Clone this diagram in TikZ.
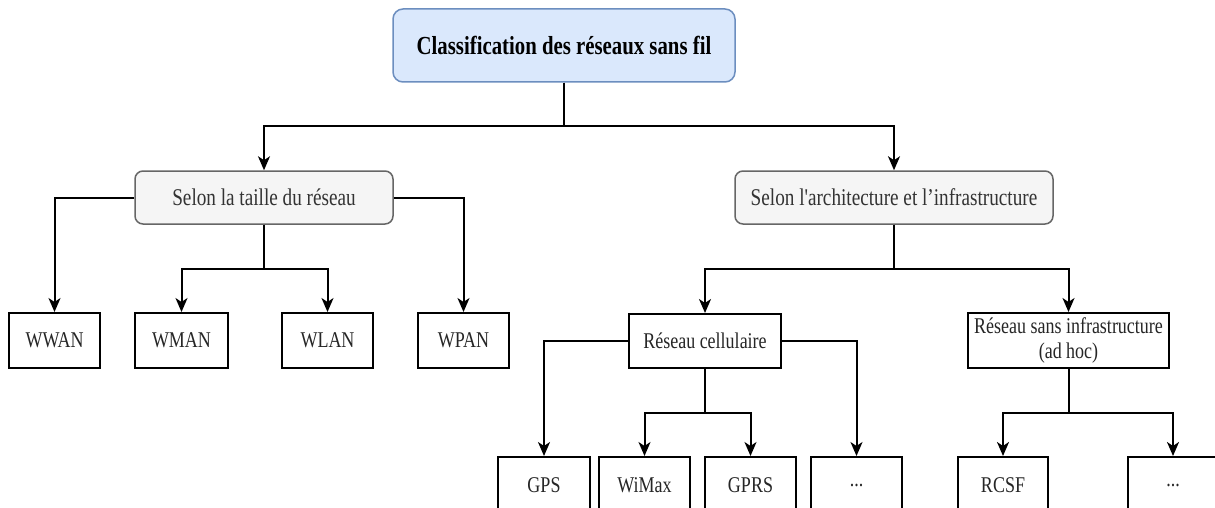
\documentclass[tikz,border=0pt]{standalone}
\usepackage{fontspec}
\setmainfont{Liberation Serif}[FakeStretch=0.8, Ligatures=TeXOff]
\usetikzlibrary{arrows.meta}

\definecolor{rootfill}{HTML}{DAE8FC}
\definecolor{rootdraw}{HTML}{6C8EBF}
\definecolor{groupfill}{HTML}{F5F5F5}
\definecolor{groupdraw}{HTML}{666666}
\definecolor{grouptext}{HTML}{333333}

\tikzset{
  rootbox/.style={draw=rootdraw, fill=rootfill, line width=1.5pt, rounded corners=10pt,
    minimum width=342pt, minimum height=73pt, inner sep=0pt,
    font=\bfseries\fontsize{26}{30}\selectfont},
  groupbox/.style={draw=groupdraw, fill=groupfill, line width=1.5pt, rounded corners=8pt,
    minimum height=53pt, inner sep=0pt, text=grouptext,
    font=\fontsize{24}{28}\selectfont},
  leafbox/.style={draw=black, fill=white, line width=2pt,
    minimum width=91pt, minimum height=55pt, inner sep=0pt, text=black!85,
    font=\fontsize{22.5}{24}\selectfont, align=center},
  arr/.style={draw=black, line width=2pt,
    -{Stealth[length=14pt, width=12pt, inset=4pt]}},
}

\begin{document}
\begin{tikzpicture}[x=1pt, y=-1pt]
  \useasboundingbox (0,0) rectangle (1215,508);

  % root
  \node[rootbox] (root) at (564,45.5) {Classification des réseaux sans fil};

  % two classification criteria
  \node[groupbox, minimum width=258pt] (size) at (264,197.5) {Selon la taille du réseau};
  \node[groupbox, minimum width=318pt] (arch) at (894,197.5) {Selon l'architecture et l’infrastructure};

  % by network size
  \node[leafbox] (wwan) at (54.5,340.5) {WWAN};
  \node[leafbox, minimum width=93pt] (wman) at (181.5,340.5) {WMAN};
  \node[leafbox] (wlan) at (327.5,340.5) {WLAN};
  \node[leafbox] (wpan) at (463.5,340.5) {WPAN};

  % by architecture
  \node[leafbox, minimum width=152pt, minimum height=54pt] (cell) at (705,341) {Réseau cellulaire};
  \node[leafbox, minimum width=201pt, font=\fontsize{22.5}{25}\selectfont] (adhoc) at (1068.5,340.5)
    {Réseau sans infrastructure\\(ad hoc)};

  % cellular networks
  \node[leafbox, minimum width=92pt, minimum height=56pt] (gps) at (544,485) {GPS};
  \node[leafbox, minimum height=56pt] (wimax) at (644.5,485) {WiMax};
  \node[leafbox, minimum height=56pt] (gprs) at (750.5,485) {GPRS};
  \node[leafbox, minimum height=56pt] (cellmore) at (856.5,485) {...};

  % ad hoc networks
  \node[leafbox, minimum width=90pt, minimum height=56pt] (rcsf) at (1003,485) {RCSF};
  \node[leafbox, minimum width=90pt, minimum height=56pt] (adhocmore) at (1173,485) {...};

  % connectors
  \draw[arr] (root.south) -- ++(0,43) -| (size.north);
  \draw[arr] (root.south) -- ++(0,43) -| (arch.north);

  \draw[arr] (size.west) -| (wwan.north);
  \draw[arr] (size.east) -| (wpan.north);
  \draw[arr] (size.south) -- ++(0,44) -| (wman.north);
  \draw[arr] (size.south) -- ++(0,44) -| (wlan.north);

  \draw[arr] (arch.south) -- ++(0,44) -| (cell.north);
  \draw[arr] (arch.south) -- ++(0,44) -| (adhoc.north);

  \draw[arr] (cell.west) -| (gps.north);
  \draw[arr] (cell.east) -| (cellmore.north);
  \draw[arr] (cell.south) -- ++(0,44) -| (wimax.north);
  \draw[arr] (cell.south) -- ++(0,44) -| (gprs.north);

  \draw[arr] (adhoc.south) -- ++(0,44) -| (rcsf.north);
  \draw[arr] (adhoc.south) -- ++(0,44) -| (adhocmore.north);
\end{tikzpicture}
\end{document}
